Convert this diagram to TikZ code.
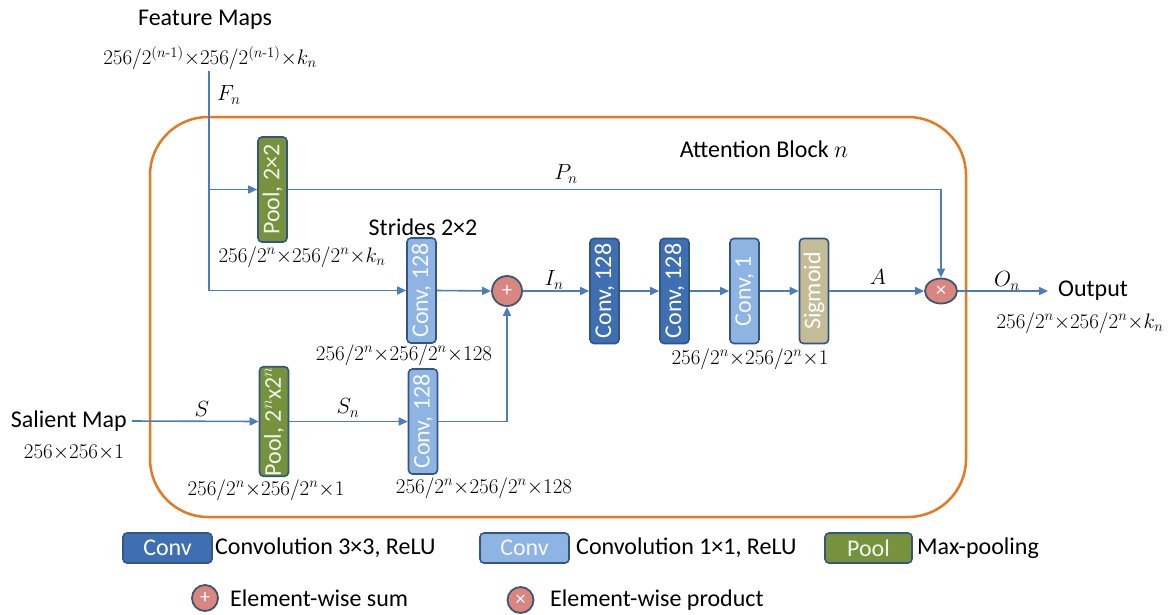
\documentclass[tikz,border=0pt]{standalone}
\usepackage{fix-cm}
\usepackage{amsmath}
\usepackage{graphicx}
\usepackage{fontspec}
\newfontfamily\calib{Carlito}
\usetikzlibrary{arrows.meta,shapes.geometric}
\definecolor{orangeC}{HTML}{E5791F}
\definecolor{lineblue}{HTML}{4A7EBB}
\definecolor{darkconv}{HTML}{3E6FB3}
\definecolor{lightconv}{HTML}{8DB4E2}
\definecolor{poolgreen}{HTML}{76923C}
\definecolor{sigm}{HTML}{C4BC96}
\definecolor{boxborder}{HTML}{34557F}
\definecolor{circfill}{HTML}{D98680}
\definecolor{circborder}{HTML}{3E5672}
\newcommand{\vlab}[1]{\rotatebox{90}{#1}}
\tikzset{
  sans/.style={font=\calib\fontsize{24}{28}\selectfont},
  dims/.style={font=\fontsize{21}{25}\selectfont, inner sep=0pt},
  lab/.style={font=\fontsize{22}{26}\selectfont, inner sep=0pt},
  blockbox/.style={draw=boxborder, line width=1.6pt, rounded corners=4pt,
    minimum height=105pt, minimum width=29pt, inner sep=0pt, text=white,
    font=\calib\fontsize{24}{28}\selectfont},
  darkbox/.style={blockbox, fill=darkconv},
  lightbox/.style={blockbox, fill=lightconv, text=white!92!lightconv},
  poolbox/.style={blockbox, fill=poolgreen, text=white!90!poolgreen},
  sigbox/.style={blockbox, fill=sigm},
  legbox/.style={draw=boxborder, line width=1.6pt, rounded corners=4pt,
    minimum width=89pt, minimum height=30pt, inner sep=0pt,
    font=\calib\fontsize{24}{28}\selectfont},
  opcirc/.style={circle, draw=circborder, line width=1.8pt, fill=circfill, text=white,
    minimum size=30pt, inner sep=0pt, font=\calib\fontsize{20}{22}\selectfont},
  conn/.style={draw=lineblue, line width=1.6pt},
  arr/.style={conn, -{Triangle[length=9pt,width=8pt]}},
}
\begin{document}
\begin{tikzpicture}[x=1pt,y=-1pt]
\useasboundingbox (0,0) rectangle (1169,614);
% attention block frame
\node[draw=orangeC, line width=2.5pt, rounded corners=58pt,
  minimum width=816pt, minimum height=400pt, inner sep=0pt] (block) at (558,317) {};
\node[sans, anchor=center] (blocklab) at (764,149) {Attention Block $n$};

% feature maps input
\node[sans] (fmtext) at (205,20) {Feature Maps};
\node[dims] (fmdims) at (210,58) {$256/2^{(n\text{-}1)}{\times}256/2^{(n\text{-}1)}{\times}k_n$};
\coordinate (fmtop) at (209,71);
\node[lab, anchor=west] (Fn) at (217,95) {$F_n$};

% boxes
\node[poolbox] (pool1) at (272.5,189.5) {\vlab{Pool, 2×2}};
\node[lightbox] (sconv) at (421.5,290.5) {\vlab{Conv, 128}};
\node[opcirc] (plus) at (507,291) {+};
\node[darkbox] (d1) at (604.5,291) {\vlab{Conv, 128}};
\node[darkbox] (d2) at (674.5,291) {\vlab{Conv, 128}};
\node[lightbox] (l1) at (744.5,291) {\vlab{Conv, 1}};
\node[sigbox] (sg) at (814,291) {\vlab{Sigmoid}};
\node[ellipse, draw=circborder, line width=1.8pt, fill=circfill, text=white,
  minimum width=32pt, minimum height=25pt, inner sep=0pt,
  font=\calib\fontsize{20}{22}\selectfont] (times) at (941,291) {×};
\node[poolbox] (pool2) at (274,421.5) {\vlab{Pool, 2\textsuperscript{$n$}x2\textsuperscript{$n$}}};
\node[lightbox] (lconv) at (423,421.5) {\vlab{Conv, 128}};

% salient map input
\node[sans, anchor=east, inner sep=0pt] (sal) at (127,421) {Salient Map};
\node[dims] (saldims) at (74,453) {$256{\times}256{\times}1$};

% output
\node[sans, anchor=west, inner sep=0pt] (output) at (1058,291) {Output};
\node[dims] (outdims) at (1080,323) {$256/2^n{\times}256/2^n{\times}k_n$};

% labels
\node[lab] (Pn) at (566,174) {$P_n$};
\node[sans] (strides) at (423,227) {Strides 2×2};
\node[dims] (dimk) at (302,257) {$256/2^n{\times}256/2^n{\times}k_n$};
\node[dims] (dim128a) at (404,355) {$256/2^n{\times}256/2^n{\times}128$};
\node[lab] (In) at (554,280) {$I_n$};
\node[lab] (A) at (878,277) {$A$};
\node[lab] (On) at (1007,281) {$O_n$};
\node[dims] (dim1) at (750,359) {$256/2^n{\times}256/2^n{\times}1$};
\node[lab] (S) at (202,409) {$S$};
\node[lab] (Sn) at (348,408) {$S_n$};
\node[dims] (dimp2) at (266,490) {$256/2^n{\times}256/2^n{\times}1$};
\node[dims] (dim128b) at (484,488) {$256/2^n{\times}256/2^n{\times}128$};

% connectors
\coordinate (fmmid) at (fmtop |- pool1.west);
\draw[arr] (fmtop) |- (sconv.west);
\draw[arr] (fmmid) -- (pool1.west);
\draw[arr] (pool1.east) -| (times.north);
\draw[arr] (sconv.east) -- (plus.west);
\draw[arr] ([xshift=5pt]sal.east) -- (pool2.west);
\draw[arr] (pool2.east) -- (lconv.west);
\draw[arr] (lconv.east) -| (plus.south);
\draw[arr] (plus.east) -- (d1.west);
\draw[arr] (d1.east) -- (d2.west);
\draw[arr] (d2.east) -- (l1.west);
\draw[arr] (l1.east) -- (sg.west);
\draw[arr] (sg.east) -- (times.west);
\draw[arr] (times.east) -- ([xshift=-10pt]output.west);

% legend
\node[legbox, fill=darkconv, text=white] (lg1) at (167.5,548) {Conv};
\node[sans, anchor=west, inner sep=0pt] (lg1t) at (215,548) {Convolution 3×3, ReLU};
\node[legbox, fill=lightconv, text=white!92!lightconv] (lg2) at (524.5,548) {Conv};
\node[sans, anchor=west, inner sep=0pt] (lg2t) at (576,548) {Convolution 1×1, ReLU};
\node[legbox, fill=poolgreen, text=white!90!poolgreen, minimum width=87pt] (lg3) at (868.5,548) {Pool};
\node[sans, anchor=west, inner sep=0pt] (lg3t) at (917,548) {Max-pooling};
\node[opcirc, minimum size=26pt] (lg4) at (205,598) {+};
\node[sans, anchor=west, inner sep=0pt] (lg4t) at (230,598) {Element-wise sum};
\node[opcirc, minimum size=26pt] (lg5) at (520.5,600) {×};
\node[sans, anchor=west, inner sep=0pt] (lg5t) at (550,600) {Element-wise product};
\end{tikzpicture}
\end{document}
